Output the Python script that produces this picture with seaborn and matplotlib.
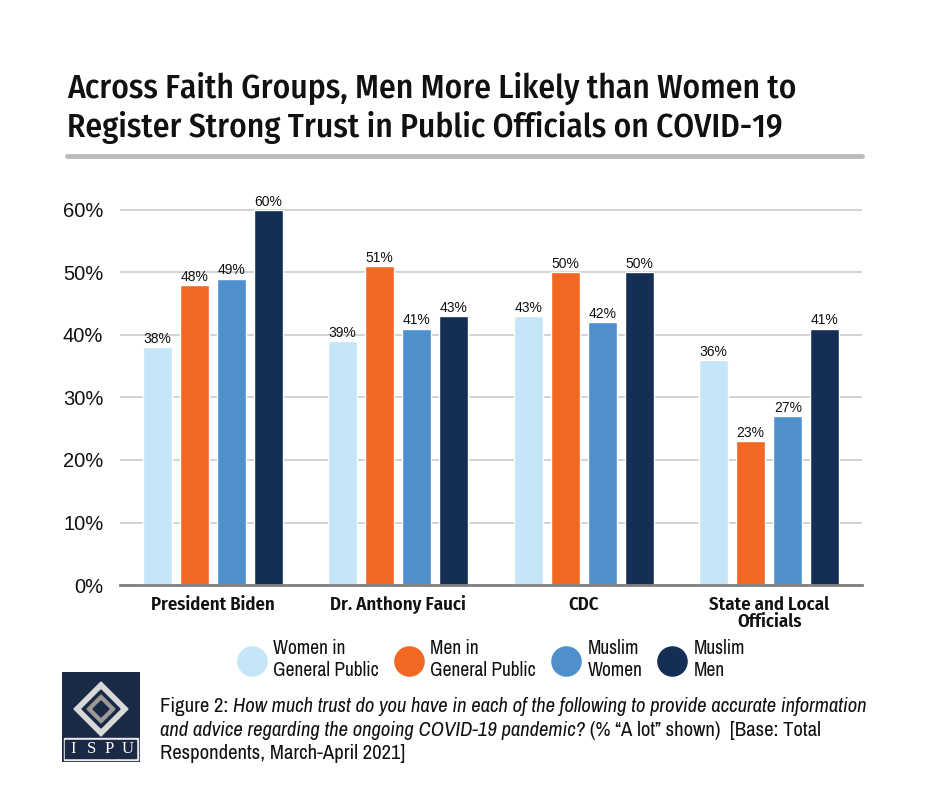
import pandas as pd
import numpy as np
import matplotlib
matplotlib.use('Agg')
import matplotlib.pyplot as plt
from matplotlib.lines import Line2D
from matplotlib.patches import Polygon, Rectangle
import seaborn as sns

categories = ['President Biden', 'Dr. Anthony Fauci', 'CDC', 'State and Local\nOfficials']
groups = ['Women in\nGeneral Public', 'Men in\nGeneral Public', 'Muslim\nWomen', 'Muslim\nMen']
women_gp = [38, 39, 43, 36]
men_gp = [48, 51, 50, 23]
muslim_women = [49, 41, 42, 27]
muslim_men = [60, 43, 50, 41]
colors = ['#c5e6f8', '#f26722', '#4f90cc', '#152e55']

rows = []
for g, vals in zip(groups, [women_gp, men_gp, muslim_women, muslim_men]):
    for c, v in zip(categories, vals):
        rows.append({'cat': c, 'grp': g, 'val': v})
df = pd.DataFrame(rows)

sns.set_style('white')
narrow = ['Archivo Narrow', 'DejaVu Sans']
cond = ['Fira Sans Condensed', 'DejaVu Sans']
plain = ['Liberation Sans', 'DejaVu Sans']
plt.rcParams['font.family'] = narrow
plt.rcParams['text.color'] = '#111111'

fig = plt.figure(figsize=(9.4, 7.88), dpi=100)
ax = fig.add_axes([0.1277, 0.2576, 0.917 - 0.1277, 0.7494 - 0.2576])

sns.barplot(data=df, x='cat', y='val', hue='grp', palette=colors, saturation=1,
            width=0.8, gap=0.22, legend=False, ax=ax)

for cont in ax.containers:
    ax.bar_label(cont, fmt='%d%%', fontsize=10, padding=1, family=plain, color='#111111')

ax.set_ylim(0, 62)
ax.set_xlim(-0.5, 3.5)
ax.set_yticks(range(0, 61, 10))
ax.set_yticklabels([f'{v}%' for v in range(0, 61, 10)], family=plain, fontsize=14.5, color='#111111')
ax.yaxis.grid(True, color='#cccccc', linewidth=1.2)
ax.set_axisbelow(True)
ax.tick_params(axis='y', length=0, pad=12)
ax.tick_params(axis='x', length=0, pad=8, labelcolor='#111111')
for lab in ax.get_xticklabels():
    lab.set_family(cond)
    lab.set_fontweight('semibold')
    lab.set_fontsize(13.5)
    lab.set_linespacing(0.95)
    lab.set_verticalalignment('top')
ax.set_xlabel('')
ax.set_ylabel('')
for s in ['top', 'right', 'left']:
    ax.spines[s].set_visible(False)
ax.spines['bottom'].set_color('#808080')
ax.spines['bottom'].set_linewidth(2)

# title
fig.text(67 / 940, 1 - 88 / 788, 'Across Faith Groups, Men More Likely than Women to',
         fontsize=24, fontweight='medium', family=cond, va='center', ha='left', color='#111111')
fig.text(67 / 940, 1 - 128 / 788, 'Register Strong Trust in Public Officials on COVID-19',
         fontsize=24, fontweight='medium', family=cond, va='center', ha='left', color='#111111')
fig.add_artist(Line2D([67 / 940, 862 / 940], [1 - 156 / 788, 1 - 156 / 788],
                      color='#bbbbbb', linewidth=3.5))

# legend
handles = [Line2D([], [], marker='o', linestyle='', markersize=21,
                  markerfacecolor=c, markeredgecolor=c) for c in colors]
leg = fig.legend(handles, groups, loc='center', bbox_to_anchor=(0.52, 1 - 660 / 788),
                 ncol=4, frameon=False, fontsize=14, handletextpad=0.1, columnspacing=0.55,
                 labelspacing=0.2)
for txt in leg.get_texts():
    txt.set_color('#111111')

# caption
fs = 14.9
y1 = 1 - 716 / 788
t = fig.text(160 / 940, y1, 'Figure 2: ', fontsize=fs, va='bottom', ha='left')
ax.annotate('How much trust do you have in each of the following to provide accurate information',
            xy=(1, 0), xycoords=t, fontsize=fs, style='italic', va='bottom', ha='left')
t2 = fig.text(160 / 940, y1 - 23.5 / 788, 'and advice regarding the ongoing COVID-19 pandemic?',
              fontsize=fs, style='italic', va='bottom', ha='left')
ax.annotate(' (% \u201cA lot\u201d shown)  [Base: Total', xy=(1, 0), xycoords=t2,
            fontsize=fs, va='bottom', ha='left')
fig.text(160 / 940, y1 - 47 / 788, 'Respondents, March-April 2021]', fontsize=fs,
         va='bottom', ha='left')

# logo
lax = fig.add_axes([62 / 940, 1 - 762 / 788, 78 / 940, 90 / 788])
lax.set_xlim(0, 78)
lax.set_ylim(0, 90)
lax.axis('off')
lax.add_patch(Rectangle((0, 0), 78, 90, color='#1b2a44'))
lax.add_patch(Rectangle((2, 2), 74, 22, color='#e9e9e9'))
lax.add_patch(Polygon([(39, 80), (66, 53), (39, 26), (12, 53)], closed=True, color='#d9d9d9'))
lax.add_patch(Polygon([(39, 72), (58, 53), (39, 34), (20, 53)], closed=True, color='#1b2a44'))
lax.add_patch(Polygon([(39, 67), (53, 53), (39, 39), (25, 53)], closed=True, color='#9a9a9a'))
lax.add_patch(Polygon([(39, 61), (47, 53), (39, 45), (31, 53)], closed=True, color='#1b2a44'))
for i, ch in enumerate('ISPU'):
    lax.add_patch(Rectangle((3 + i * 18, 4), 17, 18, color='#1b2a44'))
    lax.text(11.5 + i * 18, 13, ch, color='white', fontsize=12, ha='center', va='center',
             family='Liberation Serif')

fig.savefig('out.png', dpi=100, facecolor='white')
